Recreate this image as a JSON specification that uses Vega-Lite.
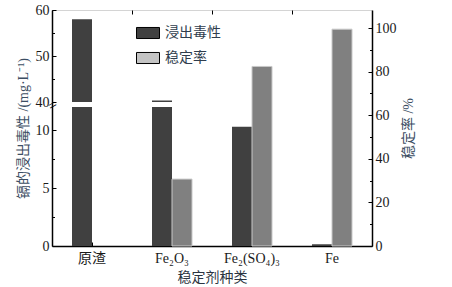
{
  "$schema": "https://vega.github.io/schema/vega-lite/v6.json",
  "width": 320,
  "height": 236,
  "autosize": {"type": "none"},
  "padding": {"left": 52, "top": 10, "right": 80, "bottom": 41},
  "config": {
    "view": {"stroke": "#d4d4d4", "strokeWidth": 1},
    "font": "Liberation Serif, Noto Sans CJK SC",
    "axis": {
      "labelFont": "Liberation Serif, Noto Sans CJK SC",
      "titleFont": "Liberation Serif, Noto Sans CJK SC",
      "labelFontSize": 14,
      "labelColor": "#1a1a1a",
      "titleFontSize": 14,
      "titleFontWeight": "normal",
      "domainColor": "#000000",
      "domainWidth": 1.5,
      "tickColor": "#000000",
      "tickWidth": 1,
      "grid": false
    }
  },
  "datasets": {
    "d": [
      {"cat": "原渣", "series": "浸出毒性", "value": 58.0},
      {"cat": "Fe₂O₃", "series": "浸出毒性", "value": 40.3},
      {"cat": "Fe₂(SO₄)₃", "series": "浸出毒性", "value": 10.3},
      {"cat": "Fe", "series": "浸出毒性", "value": 0.15},
      {"cat": "Fe₂O₃", "series": "稳定率", "value": 30.7},
      {"cat": "Fe₂(SO₄)₃", "series": "稳定率", "value": 82.4},
      {"cat": "Fe", "series": "稳定率", "value": 99.5}
    ]
  },
  "data": {"name": "d"},
  "layer": [
    {
      "transform": [{"filter": "datum.series === '浸出毒性'"}],
      "mark": {"type": "bar"},
      "encoding": {
        "x": {
          "field": "cat", "type": "nominal", "sort": null,
          "scale": {"type": "band", "domain": ["原渣", "Fe₂O₃", "Fe₂(SO₄)₃", "Fe"], "paddingInner": 0.5, "paddingOuter": 0.25},
          "axis": {"title": "稳定剂种类", "titleColor": "#2b3440", "titleX": 160, "titleY": 31, "titleBaseline": "middle", "labelAngle": 0, "tickSize": -4, "labelPadding": 9, "labelBaseline": "top"}
        },
        "xOffset": {"field": "series", "type": "nominal", "scale": {"domain": ["浸出毒性", "稳定率"], "paddingInner": 0, "paddingOuter": 0}},
        "y": {
          "field": "value", "type": "quantitative",
          "scale": {"domain": [0, 12, 40, 60], "range": [236, 97, 92, 0], "nice": false, "zero": false},
          "axis": {"orient": "left", "values": [0, 5, 10, 40, 50, 60], "tickSize": -4, "labelPadding": 7, "title": "镉的浸出毒性 /(mg·L⁻¹)", "titleColor": "#3c4e63", "titleAngle": 270, "titleX": -29, "titleY": 118, "titleAlign": "center", "titleBaseline": "middle"}
        },
        "color": {
          "field": "series", "type": "nominal",
          "scale": {"domain": ["浸出毒性", "稳定率"], "range": ["#404040", "#c4c4c4"]},
          "legend": {
            "orient": "none", "legendX": 84, "legendY": 11, "title": null,
            "symbolType": "M-1,-0.48H1V0.48H-1Z", "symbolSize": 529,
            "symbolStrokeColor": "#000000", "symbolStrokeWidth": 1,
            "labelFontSize": 14, "labelColor": "#2f3d4d", "labelOffset": 5, "rowPadding": 5,
            "labelFont": "Noto Sans CJK SC"
          }
        }
      }
    },
    {
      "transform": [{"filter": "datum.series === '浸出毒性' && datum.value > 12"}],
      "mark": {"type": "bar", "color": "#ffffff"},
      "encoding": {
        "x": {
          "field": "cat", "type": "nominal", "sort": null,
          "scale": {"type": "band", "domain": ["原渣", "Fe₂O₃", "Fe₂(SO₄)₃", "Fe"], "paddingInner": 0.5, "paddingOuter": 0.25},
          "axis": null
        },
        "xOffset": {"field": "series", "type": "nominal", "scale": {"domain": ["浸出毒性", "稳定率"], "paddingInner": 0, "paddingOuter": 0}},
        "y": {
          "datum": 12, "type": "quantitative",
          "scale": {"domain": [0, 12, 40, 60], "range": [236, 97, 92, 0], "nice": false, "zero": false},
          "axis": {"orient": "left", "values": [2.5, 7.5, 26, 45, 55], "tickSize": -2.5, "domain": false, "title": null,
                   "tickOpacity": {"condition": {"test": "datum.value === 26", "value": 0}, "value": 1},
                   "labelExpr": "datum.value === 26 ? '=' : ''", "labelAlign": "center", "labelPadding": 2.5, "labelAngle": -30, "labelFontSize": 15, "labelColor": "#000000", "labelBaseline": "middle"}
        },
        "y2": {"datum": 40}
      }
    },
    {
      "transform": [{"filter": "datum.series === '稳定率'"}],
      "mark": {"type": "bar", "fill": "#808080", "stroke": "#c8c8c8", "strokeWidth": 1},
      "encoding": {
        "x": {
          "field": "cat", "type": "nominal", "sort": null,
          "scale": {"type": "band", "domain": ["原渣", "Fe₂O₃", "Fe₂(SO₄)₃", "Fe"], "paddingInner": 0.5, "paddingOuter": 0.25},
          "axis": {"labels": false, "domain": false, "title": null, "tickSize": -4, "bandPosition": -0.5}
        },
        "xOffset": {"field": "series", "type": "nominal", "scale": {"domain": ["浸出毒性", "稳定率"], "paddingInner": 0, "paddingOuter": 0}},
        "y": {
          "field": "value", "type": "quantitative",
          "scale": {"domain": [0, 108.3], "nice": false, "zero": false},
          "axis": {"orient": "right", "values": [0, 20, 40, 60, 80, 100], "tickSize": -4, "labelPadding": 7, "title": "稳定率 /%", "titleColor": "#3c4e63", "titleAngle": 270, "titleX": 36, "titleY": 118, "titleAlign": "center", "titleBaseline": "middle"}
        }
      }
    },
    {
      "transform": [{"filter": "datum.series === '稳定率'"}],
      "mark": {"type": "bar", "opacity": 0},
      "encoding": {
        "x": {
          "field": "cat", "type": "nominal", "sort": null,
          "scale": {"type": "band", "domain": ["原渣", "Fe₂O₃", "Fe₂(SO₄)₃", "Fe"], "paddingInner": 0.5, "paddingOuter": 0.25},
          "axis": null
        },
        "xOffset": {"field": "series", "type": "nominal", "scale": {"domain": ["浸出毒性", "稳定率"], "paddingInner": 0, "paddingOuter": 0}},
        "y": {
          "field": "value", "type": "quantitative",
          "scale": {"domain": [0, 108.3], "nice": false, "zero": false},
          "axis": {"orient": "right", "values": [10, 30, 50, 70, 90], "tickSize": -2.5, "labels": false, "domain": false, "title": null}
        }
      }
    }
  ],
  "resolve": {"scale": {"x": "independent", "y": "independent", "xOffset": "independent"}}
}
